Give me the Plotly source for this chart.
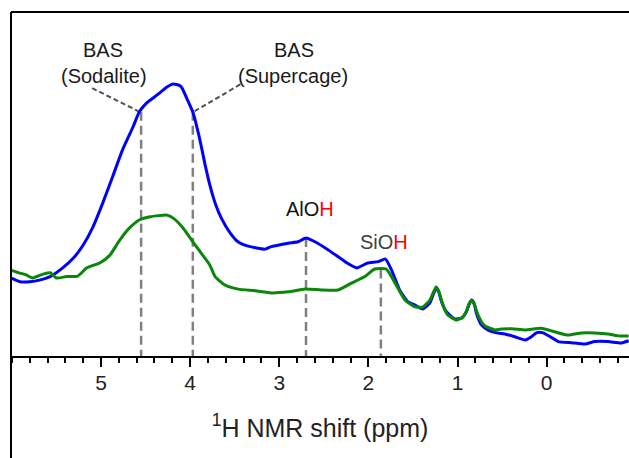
import plotly.graph_objects as go

# 1H NMR spectra (ppm, normalized intensity)
ppm_blue = [6.01, 5.91, 5.80, 5.69, 5.57, 5.43, 5.31, 5.20, 5.09, 4.98, 4.87, 4.76, 4.64, 4.57, 4.49,
            4.37, 4.26, 4.19, 4.12, 4.09, 4.04, 3.97, 3.89, 3.83, 3.78, 3.72, 3.65, 3.55, 3.46, 3.35,
            3.16, 3.09, 2.90, 2.79, 2.70, 2.60, 2.45, 2.34, 2.24, 2.13, 2.01, 1.89, 1.81, 1.74, 1.65,
            1.56, 1.48, 1.39, 1.31, 1.27, 1.24, 1.21, 1.18, 1.14, 1.11, 1.03, 0.95, 0.90, 0.87, 0.84,
            0.81, 0.79, 0.75, 0.73, 0.66, 0.56, 0.47, 0.36, 0.24, 0.17, 0.11, 0.04, -0.04, -0.13,
            -0.28, -0.43, -0.54, -0.69, -0.84, -0.92]
int_blue = [0.287, 0.273, 0.273, 0.279, 0.292, 0.324, 0.360, 0.408, 0.475, 0.563, 0.659, 0.757, 0.843,
            0.898, 0.930, 0.960, 0.989, 1.000, 0.995, 0.985, 0.949, 0.897, 0.794, 0.700, 0.630, 0.563,
            0.507, 0.452, 0.419, 0.404, 0.393, 0.402, 0.415, 0.420, 0.434, 0.420, 0.390, 0.365, 0.342,
            0.324, 0.342, 0.347, 0.357, 0.316, 0.243, 0.200, 0.188, 0.173, 0.195, 0.228, 0.250, 0.235,
            0.200, 0.170, 0.158, 0.136, 0.140, 0.163, 0.190, 0.206, 0.190, 0.160, 0.125, 0.114, 0.096,
            0.085, 0.081, 0.071, 0.059, 0.071, 0.086, 0.085, 0.071, 0.053, 0.049, 0.044, 0.053, 0.053,
            0.048, 0.056]

ppm_green = [6.01, 5.91, 5.84, 5.77, 5.65, 5.57, 5.50, 5.39, 5.26, 5.16, 5.01, 4.90, 4.79, 4.68, 4.57,
             4.45, 4.26, 4.19, 4.08, 3.97, 3.86, 3.78, 3.72, 3.61, 3.46, 3.27, 3.09, 2.90, 2.71, 2.53,
             2.34, 2.19, 2.04, 1.93, 1.80, 1.70, 1.59, 1.48, 1.39, 1.31, 1.27, 1.24, 1.21, 1.18, 1.14,
             1.11, 1.01, 0.94, 0.90, 0.87, 0.84, 0.81, 0.77, 0.73, 0.69, 0.58, 0.51, 0.39, 0.24, 0.06,
             -0.09, -0.24, -0.39, -0.54, -0.69, -0.80, -0.92]
int_green = [0.316, 0.305, 0.298, 0.287, 0.301, 0.306, 0.287, 0.292, 0.294, 0.324, 0.343, 0.371, 0.426,
             0.471, 0.500, 0.512, 0.518, 0.507, 0.471, 0.420, 0.371, 0.335, 0.292, 0.261, 0.246, 0.240,
             0.232, 0.236, 0.246, 0.243, 0.243, 0.268, 0.292, 0.320, 0.320, 0.268, 0.206, 0.181, 0.180,
             0.206, 0.235, 0.254, 0.238, 0.205, 0.168, 0.151, 0.132, 0.144, 0.165, 0.192, 0.206, 0.188,
             0.151, 0.125, 0.110, 0.096, 0.099, 0.100, 0.096, 0.102, 0.089, 0.077, 0.085, 0.085, 0.081,
             0.074, 0.074]

# marker lines: (ppm, top intensity)
marker_ppm = [4.55, 3.97, 2.70, 1.86]
marker_top = [0.898, 0.898, 0.434, 0.318]

tick_vals = [5, 4, 3, 2, 1, 0]
tick_text = ["5", "4", "3", "2", "1", "0"]

FONT = "Liberation Sans, Arial, sans-serif"

fig = go.Figure()
fig.add_trace(go.Scatter(x=ppm_blue, y=int_blue, mode="lines",
                         line=dict(color="#0000ff", width=3, shape="spline", smoothing=0.5),
                         showlegend=False, hoverinfo="skip"))
fig.add_trace(go.Scatter(x=ppm_green, y=int_green, mode="lines",
                         line=dict(color="#0a870a", width=3, shape="spline", smoothing=0.5),
                         showlegend=False, hoverinfo="skip"))

shapes = []
for p, t in zip(marker_ppm, marker_top):
    shapes.append(dict(type="line", xref="x", yref="y", x0=p, x1=p, y0=t, y1=0,
                       line=dict(color="#808080", width=2.5, dash="9px,5px"), layer="below"))
# leader lines
shapes.append(dict(type="line", xref="x", yref="y", x0=5.10, y0=0.985, x1=4.58, y1=0.900,
                   line=dict(color="#505050", width=2, dash="5px,3px")))
shapes.append(dict(type="line", xref="x", yref="y", x0=3.95, y0=0.900, x1=3.41, y1=1.004,
                   line=dict(color="#505050", width=2, dash="5px,3px")))
# frame: top and left lines
shapes.append(dict(type="line", xref="paper", yref="paper", x0=0, x1=1.01, y0=1, y1=1,
                   line=dict(color="black", width=2)))
shapes.append(dict(type="line", xref="paper", yref="paper", x0=0, x1=0, y0=-0.30, y1=1,
                   line=dict(color="black", width=2)))

annotations = [
    dict(x=4.98, y=1.125, text="BAS", font=dict(size=20, color="#1a1a1a", family=FONT)),
    dict(x=4.97, y=1.030, text="(Sodalite)", font=dict(size=20, color="#1a1a1a", family=FONT)),
    dict(x=2.84, y=1.125, text="BAS", font=dict(size=20, color="#1a1a1a", family=FONT)),
    dict(x=2.85, y=1.030, text="(Supercage)", font=dict(size=20, color="#1a1a1a", family=FONT)),
    dict(x=2.66, y=0.540, text="AlO<span style='color:#ff0000'>H</span>",
         font=dict(size=20, color="#111111", family=FONT)),
    dict(x=1.82, y=0.420, text="SiO<span style='color:#ff0000'>H</span>",
         font=dict(size=20, color="#404040", family=FONT)),
]
for a in annotations:
    a.update(xref="x", yref="y", showarrow=False, xanchor="center", yanchor="middle")

fig.update_layout(
    width=629, height=458,
    margin=dict(l=11, r=0, t=12, b=102),
    paper_bgcolor="white", plot_bgcolor="white",
    shapes=shapes, annotations=annotations,
    xaxis=dict(range=[6.01, -0.924], showgrid=False, zeroline=False,
               showline=True, linecolor="black", linewidth=2,
               ticks="outside", ticklen=9, tickwidth=2, tickcolor="black",
               tickvals=tick_vals, ticktext=tick_text,
               tickfont=dict(size=21, color="#222222", family=FONT),
               ticklabelstandoff=-2,
               minor=dict(dtick=0.2, tick0=0, ticks="outside", ticklen=5, tickwidth=2,
                          tickcolor="black", showgrid=False),
               title=dict(text="<sup>1</sup>H NMR shift (ppm)",
                          font=dict(size=25, color="#222222", family=FONT), standoff=26)),
    yaxis=dict(range=[0, 1.265], visible=False, showgrid=False, zeroline=False),
)

# remove the browser's default 8px page margin so the figure fills the window
fig.write_html("out.html",
               config={"displayModeBar": False, "staticPlot": True},
               post_script="document.body.style.margin='0';document.documentElement.style.overflow='hidden';")
